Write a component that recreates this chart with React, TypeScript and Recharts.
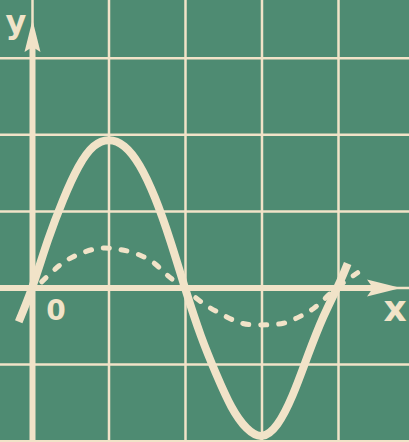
import React from 'react';
import { LineChart, Line, XAxis, YAxis, ReferenceLine, ReferenceDot } from 'recharts';

// Grid positions (x in quarter-period units, y in amplitude units)
const gridU = [0, 1, 2, 3, 4];
const gridV = [-2, -1, 0, 1, 2, 3];

// Solid curve (large amplitude)
const solidU = [-0.18, 0, 0.2, 0.4, 0.6, 0.8, 1.0, 1.2, 1.4, 1.6, 1.8, 2.0, 2.2, 2.4, 2.6, 2.8, 3.0, 3.2, 3.4, 3.6, 3.8, 4.0, 4.12];
const solidV = [-0.44, 0.02, 0.62, 1.15, 1.58, 1.85, 1.93, 1.85, 1.6, 1.18, 0.62, -0.02, -0.62, -1.12, -1.55, -1.83, -1.93, -1.78, -1.4, -0.88, -0.38, 0.04, 0.32];

// Dashed curve (small amplitude)
const dashedU = [0.12, 0.36, 0.58, 0.82, 1.0, 1.1, 1.32, 1.57, 1.76, 2.0, 2.23, 2.45, 2.65, 2.85, 3.07, 3.28, 3.48, 3.67, 3.82, 4.0, 4.25];
const dashedV = [0.08, 0.3, 0.43, 0.51, 0.52, 0.51, 0.46, 0.34, 0.17, -0.02, -0.2, -0.33, -0.43, -0.48, -0.48, -0.46, -0.38, -0.27, -0.14, 0.02, 0.2];

// Axis labels
const labels = [
  { text: 'y', u: -0.216, v: 3.47, size: 32 },
  { text: '0', u: 0.307, v: -0.3, size: 28 },
  { text: 'x', u: 4.739, v: -0.274, size: 36 },
];

const U_MIN = -0.4248;
const U_MAX = 4.9216;
const V_MIN = -2.0104;
const V_MAX = 3.7598;

const GREEN = '#4e8b72';
const CREAM = '#f1e3c8';

const solidData = solidU.map((u, i) => ({ u, v: solidV[i] }));
const dashedData = dashedU.map((u, i) => ({ u, v: dashedV[i] }));

const yArrow = (p: any) => {
  const { cx, cy } = p;
  return (
    <polygon
      points={`${cx},${cy} ${cx + 8},${cy + 32} ${cx},${cy + 27} ${cx - 8},${cy + 32}`}
      fill={CREAM}
    />
  );
};

const xArrow = (p: any) => {
  const { cx, cy } = p;
  return (
    <polygon
      points={`${cx},${cy} ${cx - 34},${cy - 8.5} ${cx - 28},${cy} ${cx - 34},${cy + 8.5}`}
      fill={CREAM}
    />
  );
};

const textShape = (text: string, size: number) => (p: any) => (
  <text
    x={p.cx}
    y={p.cy}
    textAnchor="middle"
    dominantBaseline="central"
    fontFamily="DejaVu Sans, sans-serif"
    fontWeight="bold"
    fontSize={size}
    fill={CREAM}
  >
    {text}
  </text>
);

export default function App() {
  return (
    <div style={{ position: 'absolute', left: 0, top: 0, width: 409, height: 442, background: GREEN }}>
      <LineChart width={409} height={442} margin={{ top: 0, right: 0, bottom: 0, left: 0 }}>
        <XAxis
          type="number"
          dataKey="u"
          domain={[U_MIN, U_MAX]}
          allowDataOverflow
          hide
        />
        <YAxis type="number" dataKey="v" domain={[V_MIN, V_MAX]} allowDataOverflow hide />
        {gridU.map((u) => (
          <ReferenceLine key={'gu' + u} x={u} stroke={CREAM} strokeWidth={2.5} />
        ))}
        {gridV.map((v) => (
          <ReferenceLine key={'gv' + v} y={v} stroke={CREAM} strokeWidth={2.5} />
        ))}
        <ReferenceLine
          segment={[{ x: 0, y: V_MIN }, { x: 0, y: 3.2 }]}
          stroke={CREAM}
          strokeWidth={6}
        />
        <ReferenceLine
          segment={[{ x: U_MIN, y: 0 }, { x: 4.5, y: 0 }]}
          stroke={CREAM}
          strokeWidth={6}
        />
        <ReferenceDot x={0} y={3.5} r={1} shape={yArrow} />
        <ReferenceDot x={4.817} y={0} r={1} shape={xArrow} />
        {labels.map((l) => (
          <ReferenceDot key={l.text} x={l.u} y={l.v} r={1} shape={textShape(l.text, l.size)} />
        ))}
        <Line
          data={dashedData}
          dataKey="v"
          type="natural"
          stroke={CREAM}
          strokeWidth={5}
          strokeDasharray="6 12"
          strokeLinecap="round"
          dot={false}
          activeDot={false}
          isAnimationActive={false}
        />
        <Line
          data={solidData}
          dataKey="v"
          type="natural"
          stroke={CREAM}
          strokeWidth={8}
          dot={false}
          activeDot={false}
          isAnimationActive={false}
        />
      </LineChart>
    </div>
  );
}
